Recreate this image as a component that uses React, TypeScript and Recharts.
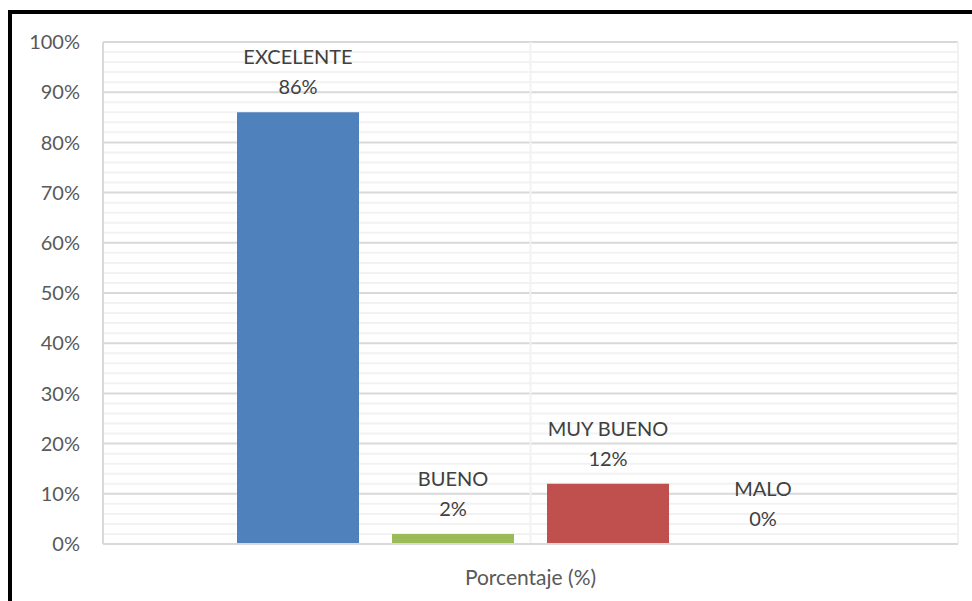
import React from "react"
import {
  BarChart,
  Bar,
  XAxis,
  YAxis,
  CartesianGrid,
  Rectangle,
} from "recharts"

const categories = ["Porcentaje (%)"]
const seriesNames = ["EXCELENTE", "BUENO", "MUY BUENO", "MALO"]
const seriesValues = [86, 2, 12, 0]
const seriesColors = ["#4f81bd", "#9bbb59", "#c0504d", "#8064a2"]
const yDomain = [0, 100]
const yTicks = [0, 10, 20, 30, 40, 50, 60, 70, 80, 90, 100]
const minorTicks = [
  2, 4, 6, 8, 12, 14, 16, 18, 22, 24, 26, 28, 32, 34, 36, 38, 42, 44, 46, 48,
  52, 54, 56, 58, 62, 64, 66, 68, 72, 74, 76, 78, 82, 84, 86, 88, 92, 94, 96, 98,
]

const data = categories.map((name) => {
  const row: Record<string, string | number> = { name }
  seriesNames.forEach((s, i) => {
    row[s] = seriesValues[i]
  })
  return row
})

const FONT = "Lato, 'Open Sans', sans-serif"

// bar plus its two-line label (name, value) so zero bars still get labelled
const makeShape = (title: string) => (props: any) => {
  const { x, y, width, height, fill, value } = props
  const cx = Number(x) + Number(width) / 2
  const v = Array.isArray(value) ? value[1] - value[0] : value
  return (
    <g>
      {height > 0 && <Rectangle x={x} y={y} width={width} height={height} fill={fill} />}
      <text x={cx} y={Number(y)} textAnchor="middle" fill="#404040" fontSize={20} fontFamily={FONT}>
        <tspan x={cx} dy={-48}>{title}</tspan>
        <tspan x={cx} dy={30}>{`${v}%`}</tspan>
      </text>
    </g>
  )
}

// minor gridlines placed through the y axis scale
const minorLines = (props: any) => {
  const s = props?.yAxis?.scale
  let f: ((v: number) => number) | null = null
  if (typeof s === "function") f = s
  else if (s && typeof s.map === "function") f = (v) => s.map(v)
  else if (s && typeof s.scale === "function") f = s.scale
  if (!f) {
    const { top, height } = props.offset
    const [lo, hi] = yDomain
    f = (v) => top + height * (1 - (v - lo) / (hi - lo))
  }
  return minorTicks.map((t) => f!(t))
}

export default function App() {
  return (
    <div
      style={{
        position: "absolute",
        left: 8,
        top: 10,
        width: 960,
        height: 587,
        borderLeft: "4px solid #000",
        borderTop: "4px solid #000",
        background: "#fff",
      }}
    >
      <BarChart
        width={960}
        height={587}
        data={data}
        margin={{ top: 28, right: 14, left: 0, bottom: 17 }}
        barCategoryGap={134}
        barGap={33}
      >
        <CartesianGrid
          stroke="#f2f2f2"
          strokeWidth={2}
          vertical={false}
          horizontalCoordinatesGenerator={minorLines}
        />
        <CartesianGrid stroke="#d9d9d9" strokeWidth={2} vertical={false} />
        <CartesianGrid stroke="#f2f2f2" strokeWidth={2} horizontal={false} />
        <XAxis
          dataKey="name"
          tickLine={false}
          tickSize={0}
          tickMargin={26}
          height={40}
          axisLine={{ stroke: "#d9d9d9", strokeWidth: 2 }}
          tick={{ fill: "#595959", fontSize: 21, fontFamily: FONT }}
        />
        <YAxis
          domain={yDomain}
          ticks={yTicks}
          interval={0}
          width={91}
          tickLine={false}
          tickSize={0}
          tickMargin={23}
          tickFormatter={(v) => `${v}%`}
          axisLine={{ stroke: "#d9d9d9", strokeWidth: 2 }}
          tick={{ fill: "#595959", fontSize: 20, fontFamily: FONT }}
        />
        <YAxis
          yAxisId="right"
          orientation="right"
          width={0}
          tick={false}
          tickLine={false}
          axisLine={{ stroke: "#d9d9d9", strokeWidth: 2 }}
        />
        {seriesNames.map((s, i) => (
          <Bar
            key={s}
            dataKey={s}
            fill={seriesColors[i]}
            isAnimationActive={false}
            shape={makeShape(s)}
          />
        ))}
      </BarChart>
    </div>
  )
}
